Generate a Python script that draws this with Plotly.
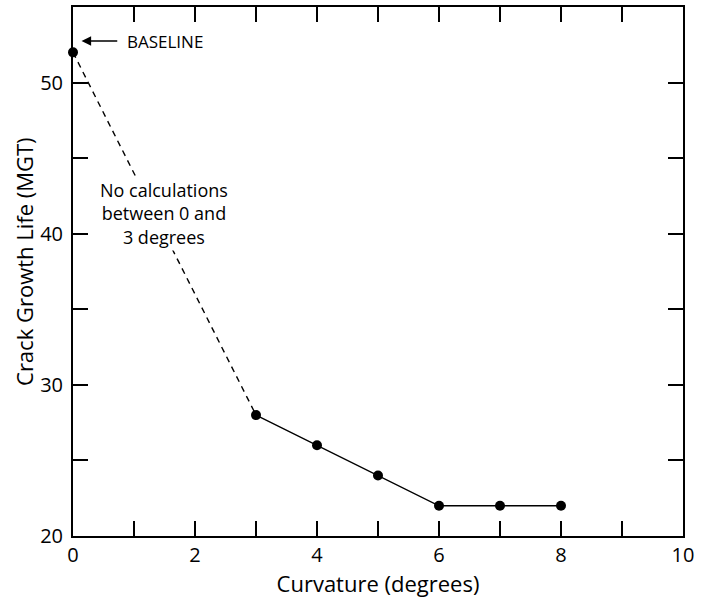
import plotly.graph_objects as go

curv_dashed = [0, 3]
life_dashed = [52, 28]
curv_solid = [3, 4, 5, 6, 7, 8]
life_solid = [28, 26, 24, 22, 22, 22]
x_ticks = list(range(0, 11))
x_labels = [str(v) if v % 2 == 0 else "" for v in x_ticks]
y_ticks = [20, 25, 30, 35, 40, 45, 50, 55]
y_labels = [str(v) if v % 10 == 0 else "" for v in y_ticks]

FONT = "Open Sans"

fig = go.Figure()
fig.add_trace(go.Scatter(x=curv_dashed, y=life_dashed, mode="lines",
                         line=dict(color="black", width=1.4, dash="6px,5px"), showlegend=False))
fig.add_trace(go.Scatter(x=curv_solid, y=life_solid, mode="lines+markers",
                         line=dict(color="black", width=1.4),
                         marker=dict(color="black", size=10), showlegend=False))
fig.add_trace(go.Scatter(x=[0], y=[52], mode="markers",
                         marker=dict(color="black", size=10), showlegend=False, cliponaxis=False))

fig.add_annotation(x=1.49, y=41.37, text="No calculations<br>between 0 and<br>3 degrees",
                   showarrow=False, font=dict(family=FONT, size=18, color="black"),
                   bgcolor="white", align="center")
fig.add_annotation(x=0.14, y=52.75, ax=0.75, ay=52.75, axref="x", ayref="y",
                   text="", showarrow=True, arrowhead=2, arrowsize=1.2, arrowwidth=1.6,
                   arrowcolor="black")
fig.add_annotation(x=0.85, y=52.75, text="BASELINE", showarrow=False, xanchor="left",
                   font=dict(family=FONT, size=17, color="black"))
fig.add_annotation(xref="paper", yref="paper", x=-49 / 610, y=0.518, text="Crack Growth Life (MGT)",
                   textangle=-90, showarrow=False, xanchor="center", yanchor="middle",
                   font=dict(family=FONT, size=22, color="black"))

axis_common = dict(showline=True, linecolor="black", linewidth=2, mirror="ticks",
                   ticks="inside", ticklen=15, tickwidth=2, tickcolor="black",
                   showgrid=False, zeroline=False, automargin=False,
                   tickfont=dict(family=FONT, size=20, color="black"))

fig.update_xaxes(range=[0, 10], tickvals=x_ticks, ticktext=x_labels,
                 title=dict(text="Curvature (degrees)", font=dict(family=FONT, size=22, color="black")),
                 **axis_common)
fig.update_yaxes(range=[20, 55], tickvals=y_ticks, ticktext=y_labels, ticklabelstandoff=4,
                 **axis_common)

fig.update_layout(width=713, height=598, margin=dict(l=73, r=30, t=7, b=62),
                  plot_bgcolor="white", paper_bgcolor="white")

fig.write_html("out.html", config={"displayModeBar": False},
               post_script="document.body.style.margin='0';")
